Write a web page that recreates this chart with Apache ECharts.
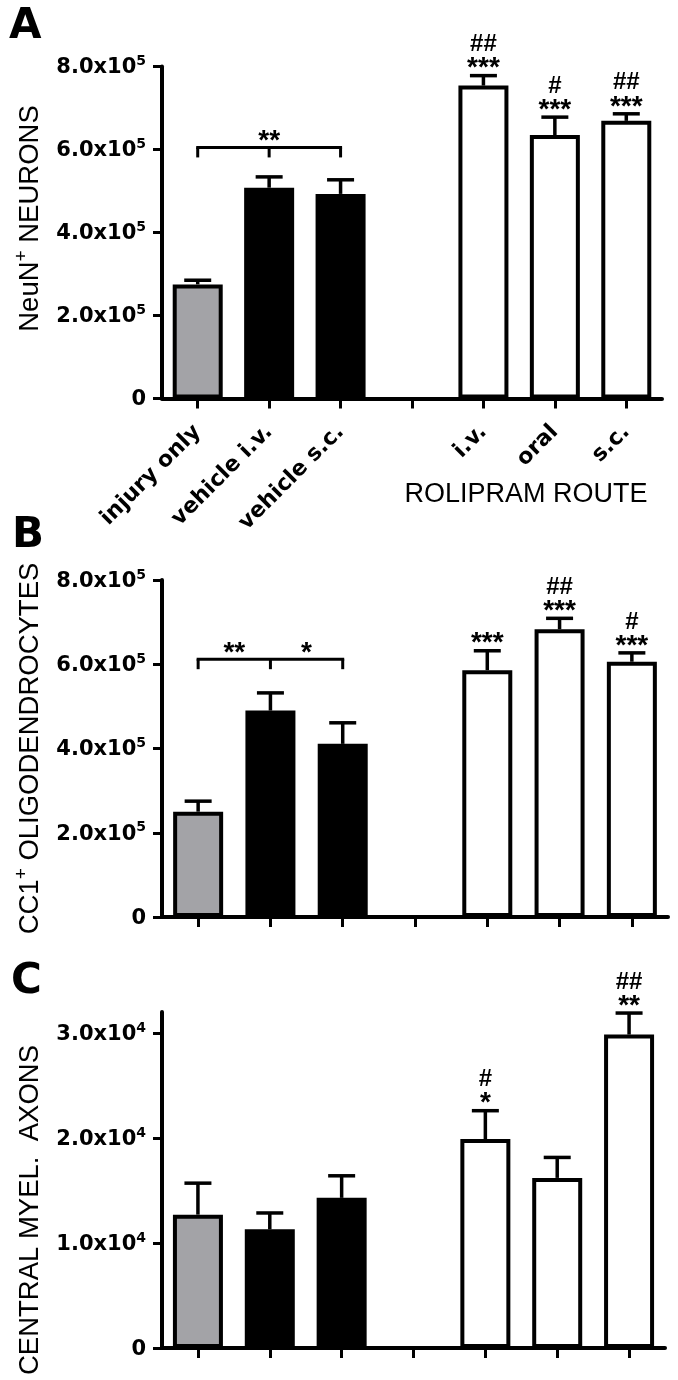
<!DOCTYPE html>
<html><head><meta charset="utf-8">
<script src="https://cdn.jsdelivr.net/npm/echarts@6/dist/echarts.min.js"></script>
<style>html,body{margin:0;padding:0;background:#fff}#c{width:678px;height:1380px}</style>
</head><body><div id="c"></div>
<script>
// ---------- data ----------
const categories = ['injury only', 'vehicle i.v.', 'vehicle s.c.', '', 'i.v.', 'oral', 's.c.'];
const barKinds = ['injury', 'vehicle', 'vehicle', 'none', 'rolipram', 'rolipram', 'rolipram'];

// Panel A: NeuN+ neurons
const neunMean = [275000, 508000, 493000, null, 754000, 635000, 669000];
const neunSem  = [10000, 26000, 34000, null, 24000, 43000, 17000];
const neunSig  = [[], [], [], [], ['***', '##'], ['***', '#'], ['***', '##']];

// Panel B: CC1+ oligodendrocytes
const cc1Mean = [250000, 490000, 411000, null, 586000, 683000, 606000];
const cc1Sem  = [25000, 42000, 50000, null, 46000, 26000, 21000];
const cc1Sig  = [[], [], [], [], ['***'], ['***', '##'], ['***', '#']];

// Panel C: central myelinated axons
const axonMean = [12700, 11300, 14300, null, 19900, 16200, 29850];
const axonSem  = [3000, 1560, 2100, null, 2700, 1950, 2050];
const axonSig  = [[], [], [], [], ['*', '#'], [], ['**', '##']];

const ticksAB = [0, 200000, 400000, 600000, 800000];
const tickLabelsAB = ['0', '2.0x10^5', '4.0x10^5', '6.0x10^5', '8.0x10^5'];
const ticksC = [0, 10000, 20000, 30000];
const tickLabelsC = ['0', '1.0x10^4', '2.0x10^4', '3.0x10^4'];

const bracketA = { ticks: [0, 1, 2], value: 605000, labels: [{ from: 0, to: 2, text: '**' }] };
const bracketB = { ticks: [0, 1, 2], value: 612000, labels: [{ from: 0, to: 1, text: '**' }, { from: 1, to: 2, text: '*' }] };

const titleA = '{t|NeuN}{p|+}{t| NEURONS}';
const titleB = '{t|CC1}{p|+}{t| OLIGODENDROCYTES}';
const titleC = '{t|CENTRAL MYEL.  AXONS}';
const routeLabel = 'ROLIPRAM ROUTE';

// ---------- helpers ----------
const BOLD = 'DejaVu Sans';
const REG = 'Liberation Sans';

const kindStyle = {
  injury:   { color: '#a3a3a7', borderColor: '#000', borderWidth: 4 },
  vehicle:  { color: '#000000', borderColor: '#000', borderWidth: 4 },
  rolipram: { color: '#ffffff', borderColor: '#000', borderWidth: 4 }
};
function barData(mean) {
  return mean.map((v, i) => v == null ? '-' : { value: v, itemStyle: kindStyle[barKinds[i]] });
}
function tickFmt(ticks, labels) {
  return function (v) {
    const i = ticks.indexOf(v);
    if (i < 0) return '';
    const parts = labels[i].split('^');
    return parts.length > 1 ? '{b|' + parts[0] + '}{s|' + parts[1] + '}' : '{b|' + parts[0] + '}';
  };
}
const tickRich = {
  b: { fontFamily: BOLD, fontWeight: 'bold', fontSize: 21, color: '#000', lineHeight: 24, verticalAlign: 'bottom' },
  s: { fontFamily: BOLD, fontWeight: 'bold', fontSize: 14, color: '#000', lineHeight: 14, verticalAlign: 'top' }
};
const titleRich = {
  t: { fontFamily: REG, fontSize: 27.5, color: '#000', lineHeight: 32, verticalAlign: 'bottom' },
  p: { fontFamily: REG, fontSize: 19, color: '#000', lineHeight: 19, verticalAlign: 'top' }
};

function makeX(gi, showLabels) {
  return {
    gridIndex: gi, type: 'category', data: categories, boundaryGap: true,
    axisLine: { show: true, onZero: false, lineStyle: { color: '#000', width: 4 } },
    axisTick: { show: true, alignWithLabel: true, interval: 0, length: 10, lineStyle: { color: '#000', width: 3 } },
    axisLabel: { show: showLabels, interval: 0, rotate: 45, margin: 30, color: '#000',
      fontFamily: BOLD, fontWeight: 'bold', fontSize: 22 },
    splitLine: { show: false }
  };
}
function makeY(gi, max, interval, ticks, labels, name, padding, gap) {
  return {
    gridIndex: gi, type: 'value', min: 0, max: max, interval: interval,
    axisLine: { show: true, lineStyle: { color: '#000', width: 4 } },
    axisTick: { show: true, length: 9, lineStyle: { color: '#000', width: 3 }, customValues: ticks },
    axisLabel: { show: true, margin: 16, formatter: tickFmt(ticks, labels), rich: tickRich, customValues: ticks },
    splitLine: { show: false },
    name: name, nameLocation: 'middle', nameRotate: 90, nameGap: gap,
    nameTextStyle: { rich: titleRich, padding: padding }
  };
}

function errRender(sig) {
  return function (params, api) {
    const i = api.value(0), m = api.value(1), s = api.value(2);
    const p0 = api.coord([i, m]);
    const p1 = api.coord([i, m + s]);
    const half = 13.5;
    const children = [
      { type: 'line', shape: { x1: p0[0], y1: p0[1], x2: p1[0], y2: p1[1] }, style: { stroke: '#000', lineWidth: 3.5 } },
      { type: 'line', shape: { x1: p1[0] - half, y1: p1[1], x2: p1[0] + half, y2: p1[1] }, style: { stroke: '#000', lineWidth: 3.5 } }
    ];
    (sig[i] || []).forEach(function (t, k) {
      const isHash = t.charAt(0) === '#';
      children.push({
        type: 'text', x: p1[0], y: p1[1] - (k === 0 ? 7 : 31),
        style: { text: t, fill: '#000', fontFamily: REG, fontWeight: 'bold', fontSize: isHash ? 24 : 28,
          align: 'center', verticalAlign: 'middle' }
      });
    });
    return { type: 'group', children: children };
  };
}
function errData(mean, sem) {
  const out = [];
  mean.forEach((v, i) => { if (v != null) out.push([i, v, sem[i]]); });
  return out;
}
function bracketRender(br) {
  return function (params, api) {
    const y = api.value(1);
    const pts = br.ticks.map(k => api.coord([k, y]));
    const L = pts[0], R = pts[pts.length - 1];
    const drop = 10;
    const children = [
      { type: 'line', shape: { x1: L[0], y1: L[1], x2: R[0], y2: R[1] }, style: { stroke: '#000', lineWidth: 3, lineCap: 'square' } }
    ];
    pts.forEach(p => children.push({ type: 'line', shape: { x1: p[0], y1: p[1], x2: p[0], y2: p[1] + drop }, style: { stroke: '#000', lineWidth: 3 } }));
    br.labels.forEach(lb => {
      const a = api.coord([lb.from, y]), b = api.coord([lb.to, y]);
      children.push({ type: 'text', x: (a[0] + b[0]) / 2, y: a[1] - 6,
        style: { text: lb.text, fill: '#000', fontFamily: REG, fontWeight: 'bold', fontSize: 28, align: 'center', verticalAlign: 'middle' } });
    });
    return { type: 'group', children: children };
  };
}

function panelSeries(g, mean, sem, sig, bracket) {
  const s = [
    { type: 'bar', xAxisIndex: g, yAxisIndex: g, data: barData(mean), barWidth: 50, z: 2, silent: true },
    { type: 'custom', xAxisIndex: g, yAxisIndex: g, data: errData(mean, sem), renderItem: errRender(sig),
      encode: { x: 0, y: 1 }, z: 5, silent: true }
  ];
  if (bracket) {
    s.push({ type: 'custom', xAxisIndex: g, yAxisIndex: g, data: [[bracket.ticks[0], bracket.value]],
      renderItem: bracketRender(bracket), encode: { x: 0, y: 1 }, z: 5, silent: true });
  }
  return s;
}

// ---------- chart ----------
const chart = echarts.init(document.getElementById('c'), null, { renderer: 'canvas', width: 678, height: 1380 });
chart.setOption({
  animation: false,
  backgroundColor: '#ffffff',
  grid: [
    { left: 162, top: 66.5, width: 500, height: 332, containLabel: false, outerBoundsMode: 'none' },
    { left: 162, top: 580, width: 506, height: 337, containLabel: false, outerBoundsMode: 'none' },
    { left: 162, top: 1012, width: 503, height: 336, containLabel: false, outerBoundsMode: 'none' }
  ],
  xAxis: [makeX(0, true), makeX(1, false), makeX(2, false)],
  yAxis: [
    makeY(0, 800000, 200000, ticksAB, tickLabelsAB, titleA, [0, 0, 0, 28], 118),
    makeY(1, 800000, 200000, ticksAB, tickLabelsAB, titleB, [0, 0, 0, 0], 118),
    makeY(2, 32000, 10000, ticksC, tickLabelsC, titleC, [0, 60, 0, 0], 118)
  ],
  series: [].concat(
    panelSeries(0, neunMean, neunSem, neunSig, bracketA),
    panelSeries(1, cc1Mean, cc1Sem, cc1Sig, bracketB),
    panelSeries(2, axonMean, axonSem, axonSig, null)
  ),
  graphic: [
    { type: 'text', x: 9, y: 27.5, style: { text: 'A', fill: '#000', fontFamily: BOLD, fontWeight: 'bold', fontSize: 42, align: 'left', verticalAlign: 'middle' } },
    { type: 'text', x: 12, y: 536, style: { text: 'B', fill: '#000', fontFamily: BOLD, fontWeight: 'bold', fontSize: 42, align: 'left', verticalAlign: 'middle' } },
    { type: 'text', x: 11, y: 982.5, style: { text: 'C', fill: '#000', fontFamily: BOLD, fontWeight: 'bold', fontSize: 42, align: 'left', verticalAlign: 'middle' } },
    { type: 'text', x: 526, y: 495, style: { text: routeLabel, fill: '#000', fontFamily: REG, fontSize: 27, align: 'center', verticalAlign: 'middle' } }
  ]
});
</script></body></html>
